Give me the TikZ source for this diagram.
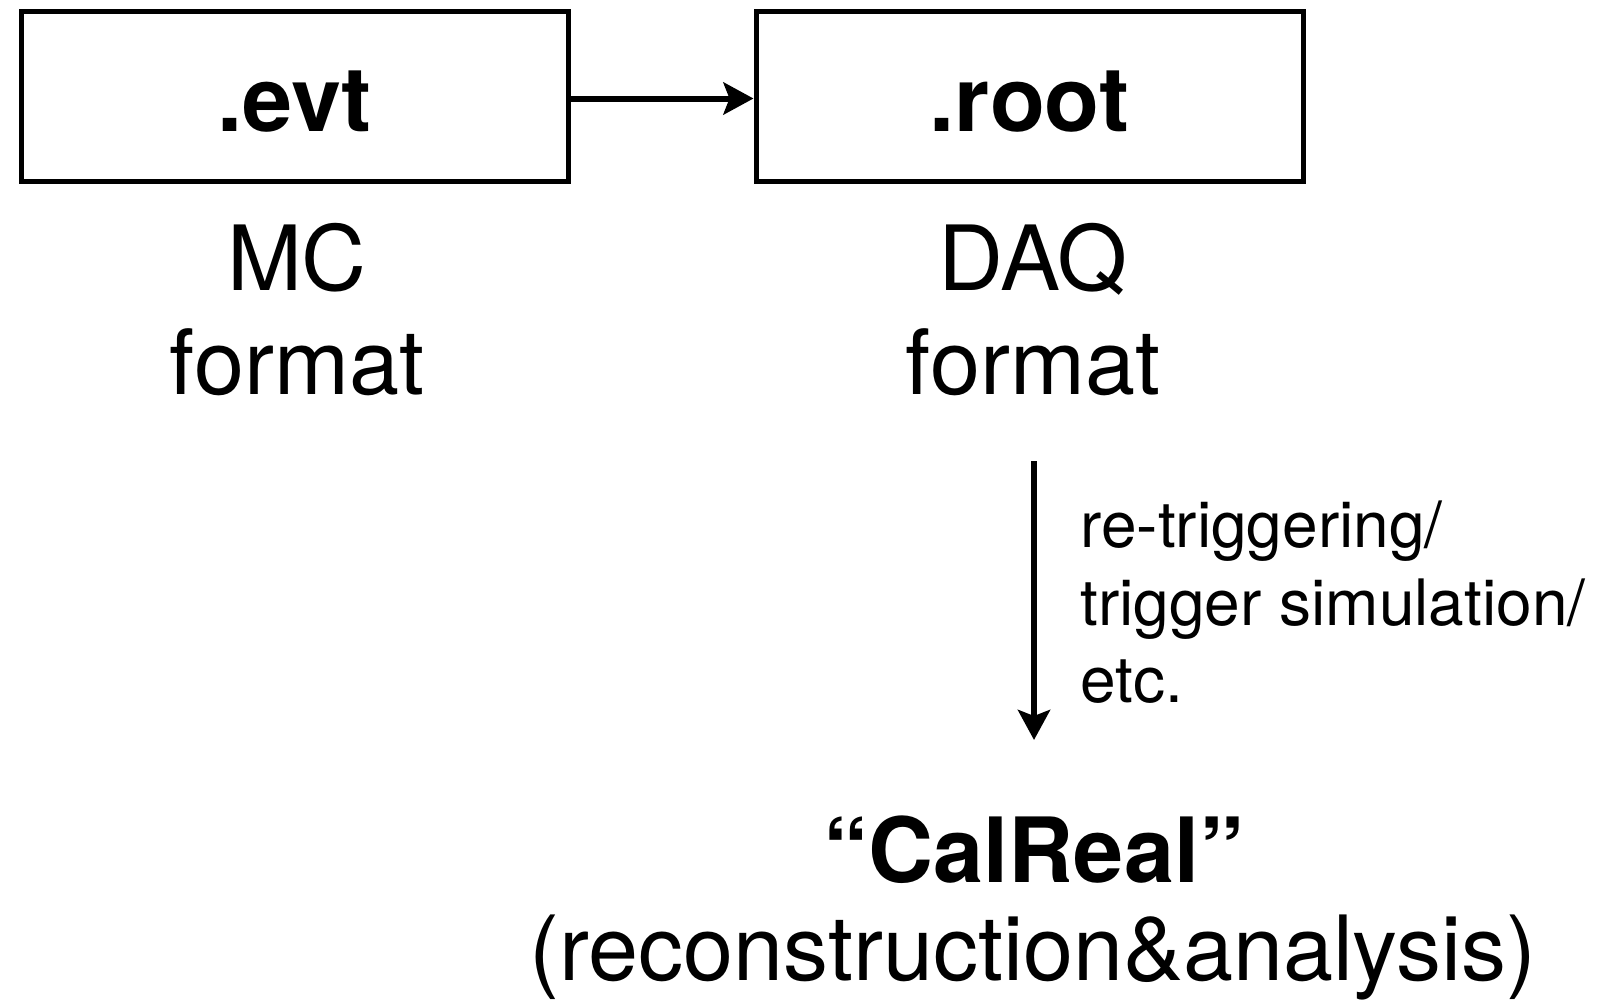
\documentclass[tikz,border=0pt]{standalone}
\usepackage{fontspec}
\setmainfont{TeX Gyre Heros}
\usetikzlibrary{arrows.meta}
\begin{document}
\begin{tikzpicture}[x=0.5pt,y=-0.5pt]
\tikzset{
 box/.style={draw, line width=2.5pt, minimum width=273.5pt, minimum height=85pt, inner sep=0pt, text height=35pt, text depth=0pt, font=\fontsize{45}{52}\selectfont\bfseries},
 big/.style={font=\fontsize{45}{52}\selectfont, anchor=base, inner sep=0pt},
 bigbold/.style={big, font=\fontsize{45}{52}\selectfont\bfseries},
 small/.style={font=\fontsize{32}{39}\selectfont, anchor=base west, inner sep=0pt},
 conn/.style={line width=3pt, -{Stealth[length=15pt,width=16pt,inset=3pt]}}
}
\useasboundingbox (0,0) rectangle (1605,1001);
\node[box] (evt) at (294.5,96) {.evt};
\node[box] (root) at (1029.5,96) {.root};
\draw[conn] ([yshift=-1.25pt]evt.east) -- ([yshift=-1.25pt]root.west);
\node[big] (mc) at (297,290) {MC};
\node[big] (mcf) at (297,394) {format};
\node[big] (daq) at (1033,290) {DAQ};
\node[big] (daqf) at (1033,394) {format};
\coordinate (a1) at (1034,461);
\coordinate (a2) at (1034,740);
\draw[conn] (a1) -- (a2);
\node[small] (l1) at (1080,547) {re-triggering/};
\node[small] (l2) at (1080,625) {trigger simulation/};
\node[small] (l3) at (1080,702) {etc.};
\node[bigbold] (cal) at (1034,882) {“CalReal”};
\node[big] (rec) at (1033,980) {(reconstruction\&analysis)};
\end{tikzpicture}
\end{document}
